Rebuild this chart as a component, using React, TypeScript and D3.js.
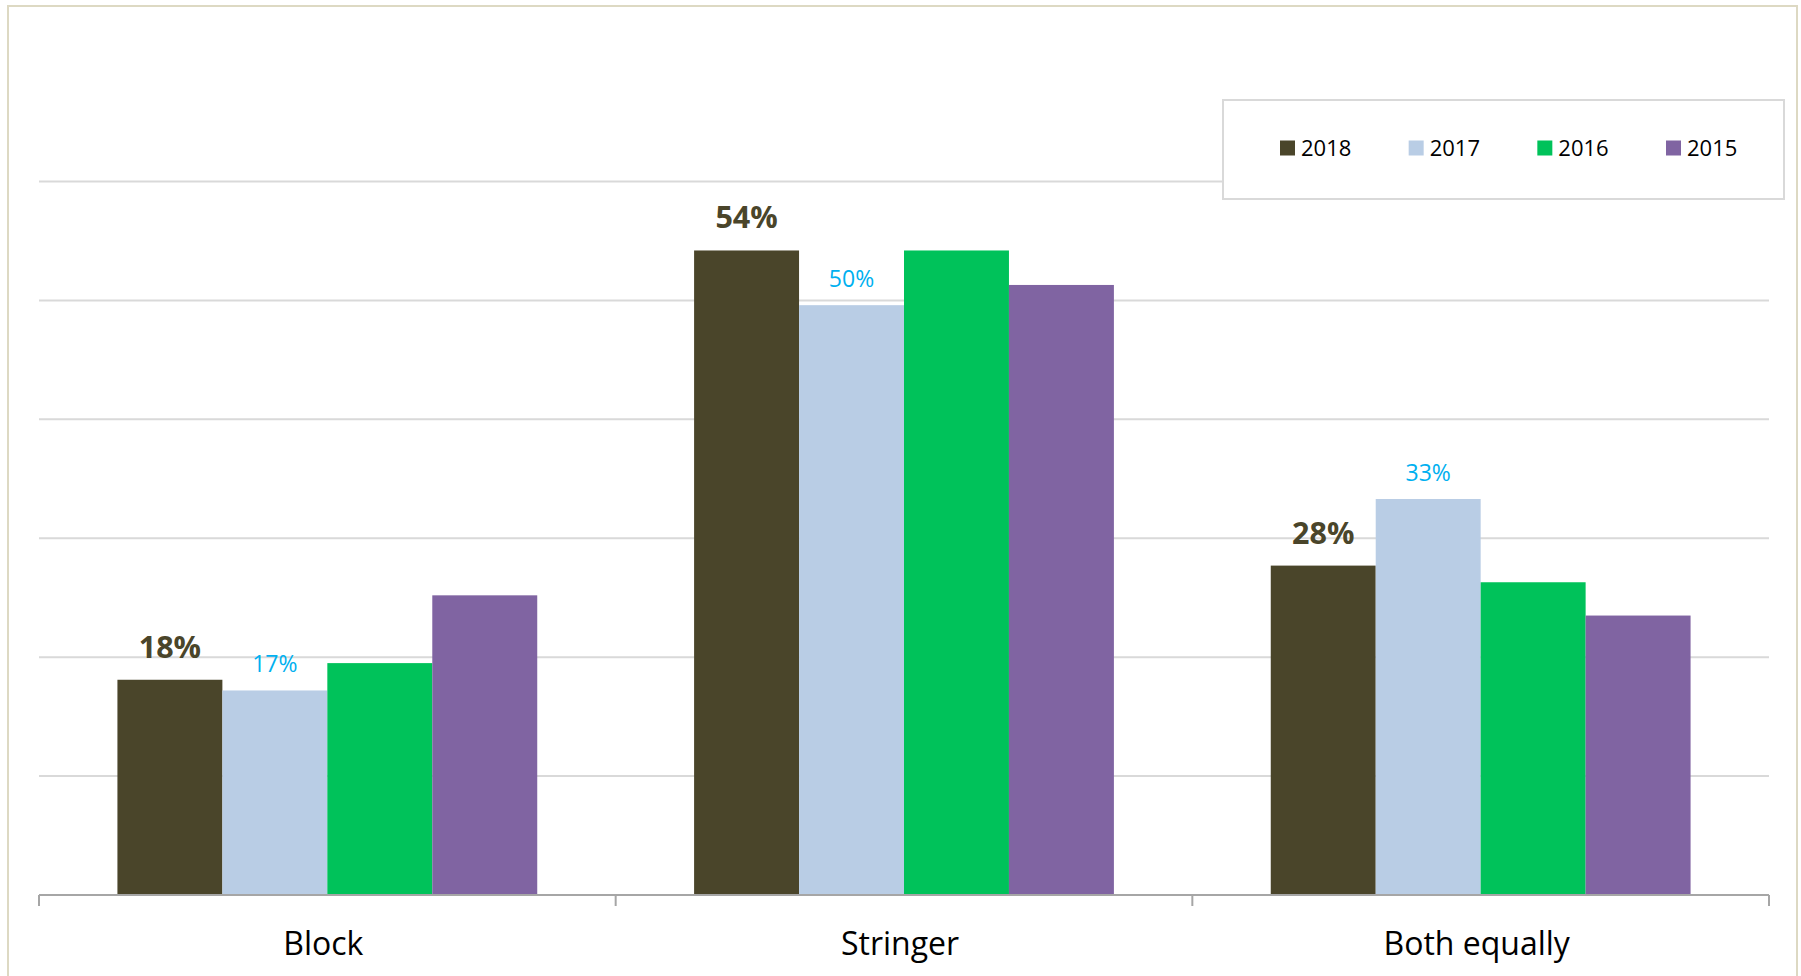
import React from "react";
import * as d3 from "d3";

const categories = ["Block", "Stringer", "Both equally"];
const seriesNames = ["2018", "2017", "2016", "2015"];
const values2018 = [18.1, 54.2, 27.7];
const values2017 = [17.2, 49.6, 33.3];
const values2016 = [19.5, 54.2, 26.3];
const values2015 = [25.2, 51.3, 23.5];
const yTicks = [10, 20, 30, 40, 50, 60];
const colors = ["#4a452a", "#b9cde5", "#00c25a", "#8064a2"];

const W = 1801;
const H = 976;
const FONT = "'Open Sans', sans-serif";

export default function App() {
  const series = [values2018, values2017, values2016, values2015];
  const x0 = d3.scaleBand<string>().domain(categories).range([39, 1769]).paddingInner(0).paddingOuter(0);
  const groupPad = 0.136;
  const x1 = d3
    .scaleBand<string>()
    .domain(seriesNames)
    .range([x0.bandwidth() * groupPad, x0.bandwidth() * (1 - groupPad)])
    .padding(0);
  const y = d3.scaleLinear().domain([0, 60]).range([895, 181.5]);

  const legendX = d3.scalePoint<string>().domain(seriesNames).range([1280, 1666]);

  return (
    <svg
      width={W}
      height={H}
      style={{ position: "absolute", left: 0, top: 0, background: "#fff" }}
    >
      <rect x={8} y={6} width={1789} height={H + 20} fill="#fff" stroke="#ddd9c3" strokeWidth={2} />
      {yTicks.map((t) => (
        <line key={t} x1={39} x2={1769} y1={y(t)} y2={y(t)} stroke="#d9d9d9" strokeWidth={2} />
      ))}
      {categories.map((c, ci) => (
        <g key={c} transform={`translate(${x0(c)},0)`}>
          {series.map((vals, si) => (
            <rect
              key={si}
              x={x1(seriesNames[si])}
              y={y(vals[ci])}
              width={x1.bandwidth()}
              height={y(0) - y(vals[ci])}
              fill={colors[si]}
            />
          ))}
          <text
            x={(x1("2018") as number) + x1.bandwidth() / 2}
            y={y(values2018[ci]) - 22}
            textAnchor="middle"
            fontFamily={FONT}
            fontWeight="bold"
            fontSize={30.5}
            fill="#4a452a"
          >
            {`${Math.round(values2018[ci])}%`}
          </text>
          <text
            x={(x1("2017") as number) + x1.bandwidth() / 2}
            y={y(values2017[ci]) - 18.5}
            textAnchor="middle"
            fontFamily={FONT}
            fontSize={23}
            fill="#00b0f0"
          >
            {`${Math.round(values2017[ci])}%`}
          </text>
        </g>
      ))}
      <line x1={39} x2={1769} y1={y(0)} y2={y(0)} stroke="#a6a6a6" strokeWidth={2} />
      {[...categories.map((c) => x0(c) as number), 1769].map((xv, i) => (
        <line key={i} x1={xv} x2={xv} y1={y(0)} y2={y(0) + 11} stroke="#a6a6a6" strokeWidth={2} />
      ))}
      {categories.map((c) => (
        <text
          key={c}
          x={(x0(c) as number) + x0.bandwidth() / 2 - 4}
          y={955}
          textAnchor="middle"
          fontFamily={FONT}
          fontSize={32}
          fill="#000"
        >
          {c}
        </text>
      ))}
      <rect x={1223} y={100} width={561} height={99} fill="#fff" stroke="#d9d9d9" strokeWidth={2} />
      {seriesNames.map((s, i) => (
        <g key={s} transform={`translate(${legendX(s)},148)`}>
          <rect x={0} y={-7.5} width={15} height={15} fill={colors[i]} />
          <text x={21} y={8} fontFamily={FONT} fontSize={22} fill="#000">
            {s}
          </text>
        </g>
      ))}
    </svg>
  );
}
